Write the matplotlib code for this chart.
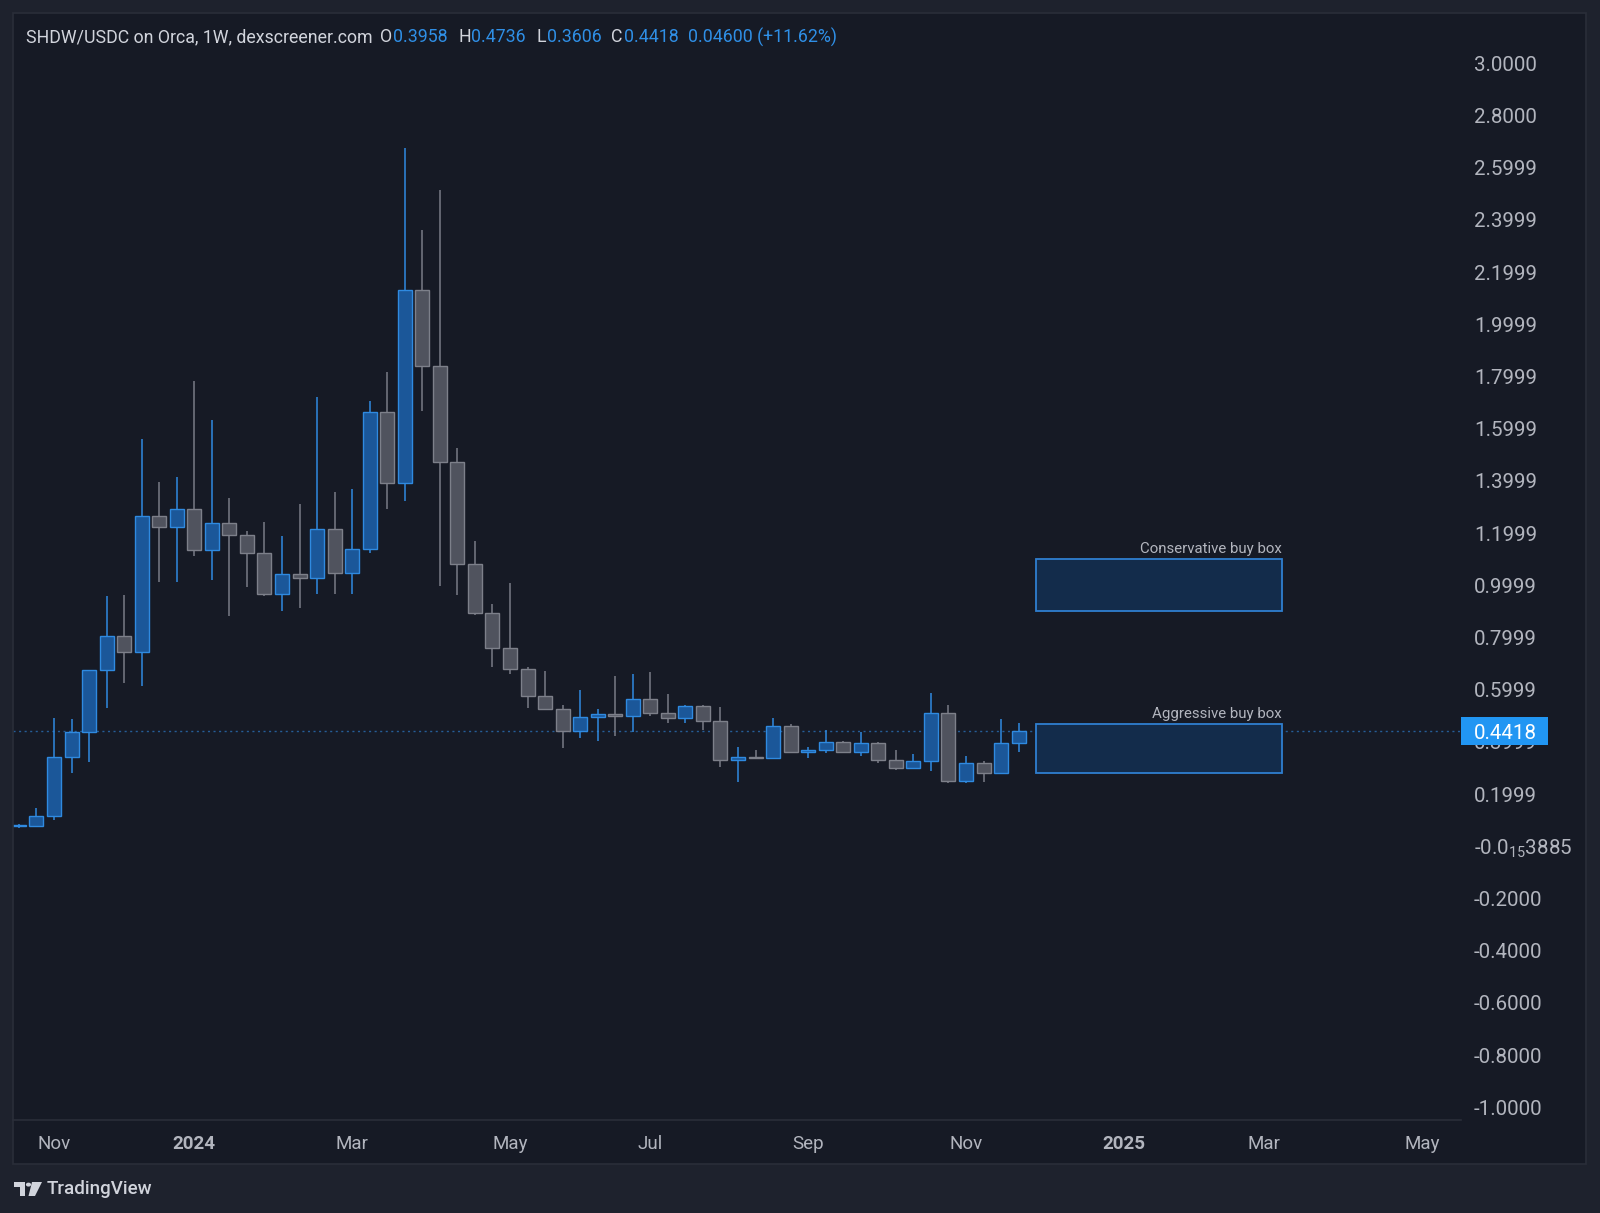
import numpy as np
import pandas as pd
import matplotlib
matplotlib.use('Agg')
import matplotlib.pyplot as plt
import matplotlib.dates as mdates
from matplotlib.patches import Rectangle, Polygon, Circle

plt.rcParams['font.family'] = ['Roboto', 'DejaVu Sans']
plt.rcParams['mathtext.fontset'] = 'custom'
plt.rcParams['mathtext.rm'] = 'Roboto'
plt.rcParams['mathtext.default'] = 'rm'

# weekly SHDW/USDC candles (Orca)
dates = pd.date_range('2023-10-23', periods=58, freq='W-MON')
opens = [0.076, 0.078, 0.116, 0.341, 0.437, 0.674, 0.807, 0.746, 1.267, 1.223,
         1.293, 1.134, 1.238, 1.192, 1.123, 0.967, 1.044, 1.027, 1.214, 1.046,
         1.138, 1.665, 1.391, 2.131, 1.841, 1.474, 1.080, 0.895, 0.759, 0.678,
         0.576, 0.525, 0.442, 0.494, 0.507, 0.500, 0.564, 0.510, 0.490, 0.536,
         0.481, 0.332, 0.343, 0.339, 0.462, 0.360, 0.368, 0.398, 0.362, 0.397,
         0.331, 0.299, 0.328, 0.512, 0.250, 0.318, 0.282, 0.3958]
highs = [0.085, 0.148, 0.493, 0.488, 0.675, 0.959, 0.964, 1.559, 1.395, 1.415,
         1.784, 1.634, 1.336, 1.209, 1.241, 1.188, 1.310, 1.720, 1.356, 1.369,
         1.707, 1.818, 2.674, 2.361, 2.515, 1.525, 1.170, 0.927, 1.008, 0.688,
         0.672, 0.541, 0.599, 0.526, 0.654, 0.659, 0.669, 0.585, 0.540, 0.540,
         0.535, 0.379, 0.368, 0.490, 0.470, 0.382, 0.446, 0.402, 0.438, 0.400,
         0.369, 0.355, 0.586, 0.541, 0.347, 0.326, 0.488, 0.4736]
lows = [0.070, 0.075, 0.100, 0.280, 0.324, 0.531, 0.627, 0.614, 1.014, 1.012,
        1.112, 1.020, 0.882, 0.992, 0.960, 0.903, 0.912, 0.967, 0.967, 0.966,
        1.123, 1.291, 1.323, 1.669, 0.997, 0.963, 0.886, 0.688, 0.659, 0.531,
        0.522, 0.375, 0.414, 0.405, 0.424, 0.439, 0.500, 0.471, 0.471, 0.446,
        0.305, 0.248, 0.337, 0.333, 0.358, 0.340, 0.359, 0.356, 0.347, 0.318,
        0.292, 0.296, 0.290, 0.241, 0.241, 0.245, 0.276, 0.3606]
closes = [0.080, 0.116, 0.341, 0.437, 0.674, 0.807, 0.746, 1.266, 1.223, 1.293,
          1.134, 1.238, 1.192, 1.123, 0.967, 1.044, 1.027, 1.214, 1.046, 1.138,
          1.665, 1.391, 2.131, 1.841, 1.474, 1.080, 0.895, 0.759, 0.678, 0.576,
          0.525, 0.442, 0.494, 0.507, 0.500, 0.564, 0.510, 0.490, 0.536, 0.481,
          0.332, 0.341, 0.339, 0.462, 0.360, 0.368, 0.398, 0.362, 0.397, 0.331,
          0.299, 0.328, 0.512, 0.250, 0.318, 0.282, 0.3958, 0.4418]

# buy boxes drawn on the chart
box_names = ['Conservative buy box', 'Aggressive buy box']
box_low = [0.90, 0.28]
box_high = [1.10, 0.47]
box_start = ['2024-12-02', '2024-12-02']
box_end = ['2025-03-10', '2025-03-10']

# axis labels
ytick_vals = [3.0, 2.8, 2.6, 2.4, 2.2, 2.0, 1.8, 1.6, 1.4, 1.2, 1.0, 0.8, 0.6,
              0.4, 0.2, 0.0, -0.2, -0.4, -0.6, -0.8, -1.0]
ytick_labels = ['3.0000', '2.8000', '2.5999', '2.3999', '2.1999', '1.9999',
                '1.7999', '1.5999', '1.3999', '1.1999', '0.9999', '0.7999',
                '0.5999', '0.3999', '0.1999', r'-0.0$_{15}$3885',
                '-0.2000', '-0.4000', '-0.6000', '-0.8000', '-1.0000']
xtick_dates = ['2023-11-06', '2024-01-01', '2024-03-04', '2024-05-06', '2024-07-01',
               '2024-09-02', '2024-11-04', '2025-01-06', '2025-03-03', '2025-05-05']
xtick_labels = ['Nov', '2024', 'Mar', 'May', 'Jul', 'Sep', 'Nov', '2025', 'Mar', 'May']

W, H = 1600, 1213
BG = '#161a25'
OUTER = '#1e222d'
BORDER = '#2a2e39'
TXT = '#b2b5be'
UP_FC, UP_EC = '#1b5799', '#2f8ae0'
DN_FC, DN_EC = '#50535e', '#7d808a'

fig = plt.figure(figsize=(W / 100, H / 100), dpi=100, facecolor=OUTER)

# chart frame
fig.add_artist(Rectangle((13 / W, 1 - 1164 / H), 1573 / W, 1151 / H,
                         transform=fig.transFigure, fc=BG, ec='none', zorder=0))

ax = fig.add_axes([13 / W, 1 - 1120 / H, 1448 / W, 1106 / H])
ax.set_facecolor(BG)

x = mdates.date2num(dates)
o = np.array(opens); c = np.array(closes)
hi = np.array(highs); lo = np.array(lows)
up = c >= o
body_w = 5.6  # days

ax.vlines(x[up], lo[up], hi[up], color=UP_EC, lw=1.1, zorder=2)
ax.vlines(x[~up], lo[~up], hi[~up], color='#787b86', lw=1.1, zorder=2)
bottom = np.minimum(o, c)
height = np.maximum(np.abs(c - o), 0.004)
ax.bar(x[up], height[up], bottom=bottom[up], width=body_w, color=UP_FC,
       edgecolor=UP_EC, linewidth=1.0, zorder=3)
ax.bar(x[~up], height[~up], bottom=bottom[~up], width=body_w, color=DN_FC,
       edgecolor=DN_EC, linewidth=1.0, zorder=3)

# buy boxes
for name, lo_b, hi_b, s, e in zip(box_names, box_low, box_high, box_start, box_end):
    xs = mdates.date2num(pd.Timestamp(s)); xe = mdates.date2num(pd.Timestamp(e))
    ax.add_patch(Rectangle((xs, lo_b), xe - xs, hi_b - lo_b, fc='#132c4b',
                           ec='#2f7fd0', lw=1.3, zorder=4))
    ax.annotate(name, xy=(xe, hi_b), xytext=(0, 2), textcoords='offset points',
                ha='right', va='bottom', fontsize=10.8, color=TXT, zorder=5)

# last price line + label
last = closes[-1]
ax.axhline(last, color='#2a6fb5', lw=1, ls=(0, (1.5, 2.5)), alpha=0.8, zorder=1)

x0 = mdates.date2num(pd.Timestamp('2023-11-06'))
ppd = 2.5055  # pixels per day
ax.set_xlim(x0 - 41 / ppd, x0 + 1407 / ppd)
ax.set_ylim(-1.0487, 3.1889)

ppu = ax.bbox.height / (3.1889 + 1.0487)
ax.add_patch(Rectangle((1.0, last - 14 / ppu), 87 / 1448, 28 / ppu,
                       transform=ax.get_yaxis_transform(), fc='#2196f3', ec='none',
                       clip_on=False, zorder=6))

ax.yaxis.tick_right()
ax.set_yticks(ytick_vals)
ax.set_yticklabels(ytick_labels)
ax.tick_params(axis='y', length=0, pad=9.4, labelcolor=TXT, labelsize=14.8)
ax.annotate(f'{last:.4f}', xy=(1.0, last), xycoords=ax.get_yaxis_transform(),
            xytext=(9.4, -1.5), textcoords='offset points', ha='left', va='center',
            fontsize=14.8, color='white', zorder=7, annotation_clip=False)

ax.set_xticks(mdates.date2num(pd.to_datetime(xtick_dates)))
ax.set_xticklabels(xtick_labels)
ax.tick_params(axis='x', length=0, pad=10.5, labelcolor=TXT, labelsize=13.5)
for t in ax.get_xticklabels():
    if t.get_text().isdigit():
        t.set_fontweight('bold')

for sp in ['top', 'left', 'right']:
    ax.spines[sp].set_visible(False)
ax.spines['bottom'].set_color(BORDER)
ax.spines['bottom'].set_linewidth(1.2)

# frame outline on top
fig.add_artist(Rectangle((13 / W, 1 - 1164 / H), 1573 / W, 1151 / H,
                         transform=fig.transFigure, fc='none', ec=BORDER, lw=1.2,
                         zorder=10))

# header line
hy = 1 - 37 / H
fs_h = 12.8
fig.text(25.5 / W, hy, 'SHDW/USDC on Orca, 1W, dexscreener.com', fontsize=fs_h,
         color='#d1d4dc', va='center')
for lab, xl, val, xv in [('O', 380, '0.3958', 392.5), ('H', 459, '0.4736', 471),
                         ('L', 536.5, '0.3606', 546.5), ('C', 611.5, '0.4418', 624)]:
    fig.text(xl / W, hy, lab, fontsize=fs_h, color='#d1d4dc', va='center')
    fig.text(xv / W, hy, val, fontsize=fs_h, color='#2f8fe6', va='center')
fig.text(688 / W, hy, '0.04600 (+11.62%)', fontsize=fs_h, color='#2f8fe6', va='center')

# TradingView logo
def fp(pts):
    return [(px / W, 1 - py / H) for px, py in pts]

logo_c = '#d1d4dc'
fig.add_artist(Polygon(fp([(14, 1182), (25, 1182), (25, 1196), (19.5, 1196),
                           (19.5, 1187), (14, 1187)]), closed=True,
                       transform=fig.transFigure, fc=logo_c, ec='none'))
fig.add_artist(Circle((28.5 / W, 1 - 1184.6 / H), 2.6 / W, transform=fig.transFigure,
                      fc=logo_c, ec='none'))
fig.add_artist(Polygon(fp([(32, 1182), (42, 1182), (35, 1196), (28.5, 1196)]),
                       closed=True, transform=fig.transFigure, fc=logo_c, ec='none'))
fig.text(47 / W, 1 - 1189 / H, 'TradingView', fontsize=13.5, fontweight='medium',
         color='#d1d4dc', va='center')

fig.savefig('out.png', dpi=100, facecolor=OUTER)
